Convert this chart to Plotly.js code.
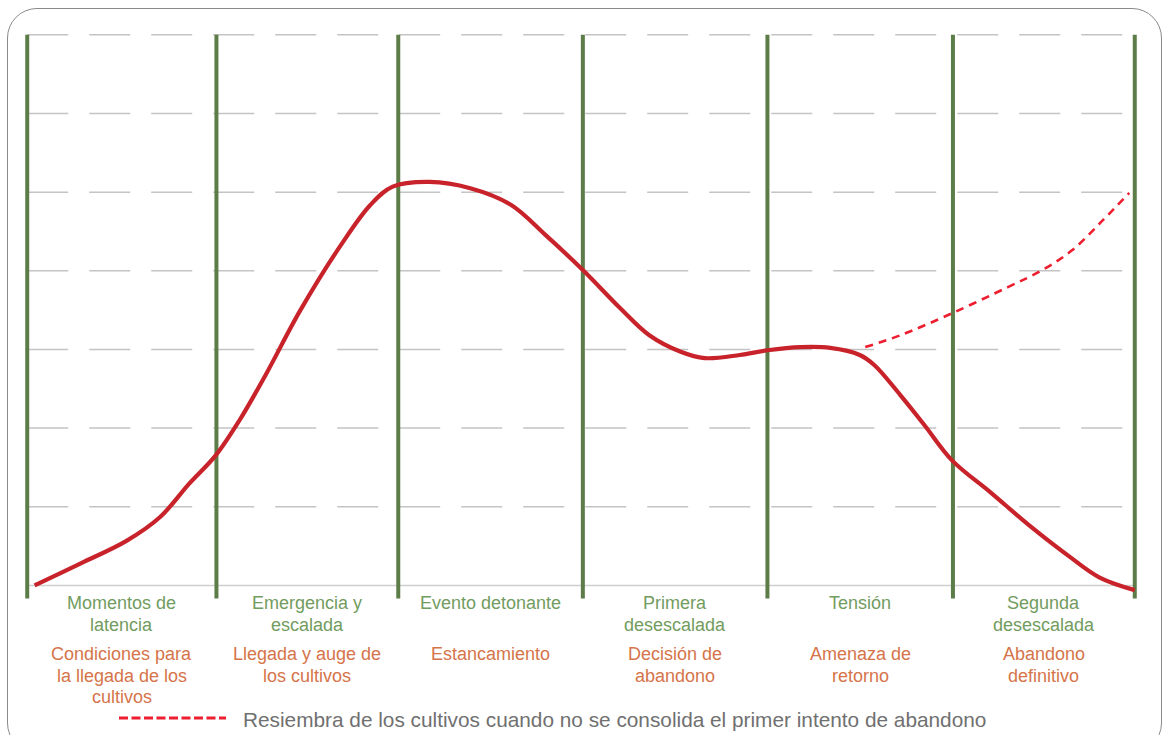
<!DOCTYPE html>
<html>
<head>
<meta charset="utf-8">
<script src="https://cdn.plot.ly/plotly-3.0.1.min.js"></script>
<style>
  html, body { margin: 0; padding: 0; background: #ffffff; overflow: hidden; }
  #wrap { position: relative; width: 1164px; height: 735px; overflow: hidden; }
  #chart { position: absolute; left: 0; top: 0; width: 1164px; height: 735px; }
  #frame { position: absolute; left: 7px; top: 8px; width: 1155px; height: 745px;
           border: 1.5px solid #8a8a8a; border-radius: 30px; pointer-events: none; box-sizing: border-box; }
</style>
</head>
<body>
<div id="wrap">
  <div id="chart"></div>
  <div id="frame"></div>
</div>
<script>
// ---- Data ----
const stageBoundaries = [0, 1.025, 2.01, 3.01, 4.01, 5.015, 6];
const gridLevels = [1, 2, 3, 4, 5, 6, 7];
const baseLevel = 0;

const stageNames = [
  "Momentos de<br>latencia",
  "Emergencia y<br>escalada",
  "Evento detonante",
  "Primera<br>desescalada",
  "Tensión",
  "Segunda<br>desescalada"
];
const stageDescriptions = [
  "Condiciones para<br>la llegada de los<br>cultivos",
  "Llegada y auge de<br>los cultivos",
  "Estancamiento",
  "Decisión de<br>abandono",
  "Amenaza de<br>retorno",
  "Abandono<br>definitivo"
];

const mainX = [0.04, 0.29, 0.54, 0.72, 0.88, 1.02, 1.15, 1.29, 1.48, 1.70, 1.86, 1.98, 2.18, 2.40, 2.62, 2.81, 3.01, 3.21, 3.37, 3.54, 3.67, 3.86, 4.01, 4.19, 4.35, 4.51, 4.59, 4.73, 4.86, 5.01, 5.22, 5.43, 5.65, 5.81, 6.00];
const mainY = [0.00, 0.28, 0.57, 0.87, 1.30, 1.65, 2.10, 2.67, 3.50, 4.33, 4.84, 5.07, 5.13, 5.05, 4.84, 4.45, 4.01, 3.53, 3.18, 2.97, 2.89, 2.93, 2.99, 3.03, 3.02, 2.93, 2.80, 2.42, 2.04, 1.59, 1.18, 0.76, 0.36, 0.10, -0.06];

const resowX = [4.54, 4.73, 5.01, 5.31, 5.50, 5.66, 5.83, 5.97];
const resowY = [3.03, 3.18, 3.46, 3.79, 4.01, 4.26, 4.65, 4.99];

const legendText = "Resiembra de los cultivos cuando no se consolida el primer intento de abandono";

// ---- Layout helpers ----
const W = 1164, Hgt = 735;
const M = { l: 18, r: 20, t: 27, b: 126 };
const PW = W - M.l - M.r, PH = Hgt - M.t - M.b;
const px2x = p => (p - M.l) / PW;
const px2y = p => (M.t + PH - p) / PH;

const GREEN_LINE = "#5d7d48";
const GREEN_TEXT = "#729c60";
const ORANGE_TEXT = "#d5744a";
const RED = "#c8232b";
const RED_DASH = "#ec1e2f";
const GRID = "#c4c4c4";
const FONT = "Liberation Sans, Arial, sans-serif";

const traces = [];

// dashed grid lines
const gx = [], gy = [];
gridLevels.forEach(v => { gx.push(stageBoundaries[0], stageBoundaries[stageBoundaries.length - 1], null); gy.push(v, v, null); });
traces.push({ x: gx, y: gy, mode: "lines", line: { color: GRID, width: 1.5, dash: "41px,21px" }, hoverinfo: "skip", showlegend: false });

// baseline
traces.push({ x: [stageBoundaries[0], stageBoundaries[stageBoundaries.length - 1]], y: [baseLevel, baseLevel],
  mode: "lines", line: { color: "#cfcfcf", width: 1.5 }, hoverinfo: "skip", showlegend: false });

// vertical stage lines
const vx = [], vy = [];
stageBoundaries.forEach(b => { vx.push(b, b, null); vy.push(-0.165, gridLevels[gridLevels.length - 1], null); });
traces.push({ x: vx, y: vy, mode: "lines", line: { color: GREEN_LINE, width: 4 }, hoverinfo: "skip", showlegend: false });

// resowing dashed curve
traces.push({ x: resowX, y: resowY, mode: "lines", line: { color: RED_DASH, width: 2.6, dash: "8px,6px", shape: "spline", smoothing: 1 },
  hoverinfo: "skip", showlegend: false });

// main curve
traces.push({ x: mainX, y: mainY, mode: "lines", line: { color: RED, width: 4.2, shape: "spline", smoothing: 1 },
  hoverinfo: "skip", showlegend: false });

// annotations
const annotations = [];
const greenLineY = [603, 625];
const orangeLineY = [654, 676, 697];
const toPX = x => M.l + (x + 0.05) / 6.1 * PW;
stageNames.forEach((name, i) => {
  const cx = (stageBoundaries[i] + stageBoundaries[i + 1]) / 2;
  name.split("<br>").forEach((line, k) => {
    annotations.push({ xref: "paper", yref: "paper", x: px2x(toPX(cx)), y: px2y(greenLineY[k]),
      xanchor: "center", yanchor: "middle", showarrow: false, text: line,
      font: { family: FONT, size: 18, color: GREEN_TEXT } });
  });
  stageDescriptions[i].split("<br>").forEach((line, k) => {
    annotations.push({ xref: "paper", yref: "paper", x: px2x(toPX(cx)), y: px2y(orangeLineY[k]),
      xanchor: "center", yanchor: "middle", showarrow: false, text: line,
      font: { family: FONT, size: 18, color: ORANGE_TEXT } });
  });
});
annotations.push({ xref: "paper", yref: "paper", x: px2x(241), y: px2y(719), xanchor: "left", yanchor: "middle",
  showarrow: false, text: legendText, font: { family: FONT, size: 20.8, color: "#707070" } });

const shapes = [
  { type: "line", xref: "paper", yref: "paper", x0: px2x(119), x1: px2x(226), y0: px2y(718), y1: px2y(718),
    line: { color: RED_DASH, width: 3, dash: "9px,3.5px" } }
];

const layout = {
  width: W, height: Hgt,
  margin: M,
  paper_bgcolor: "#ffffff", plot_bgcolor: "#ffffff",
  xaxis: { range: [-0.05, 6.05], visible: false, showgrid: false, zeroline: false, fixedrange: true },
  yaxis: { range: [-0.3, 7.1], visible: false, showgrid: false, zeroline: false, fixedrange: true },
  showlegend: false,
  annotations: annotations,
  shapes: shapes,
  font: { family: FONT }
};

Plotly.newPlot("chart", traces, layout, { displayModeBar: false, staticPlot: true });
</script>
</body>
</html>
